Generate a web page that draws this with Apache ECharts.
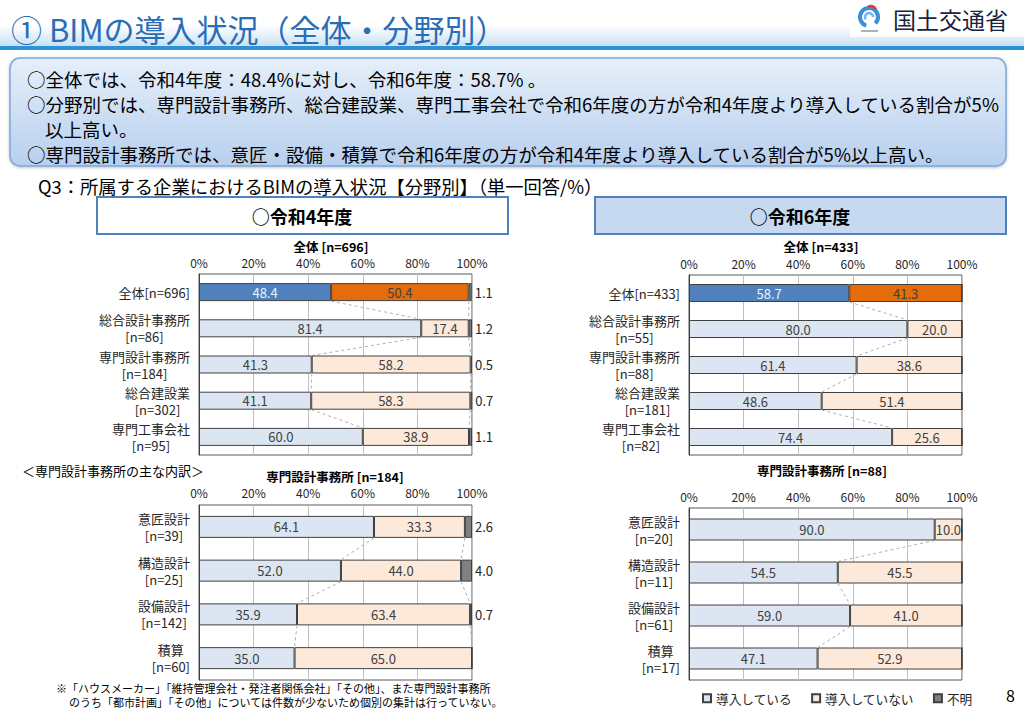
<!DOCTYPE html>
<html>
<head>
<meta charset="utf-8">
<script src="https://cdn.jsdelivr.net/npm/echarts@6/dist/echarts.min.js"></script>
<style>
html,body{margin:0;padding:0;background:#fff;}
#chart{width:1024px;height:709px;}
</style>
</head>
<body>
<div id="chart"></div>
<script>
// ---------------- DATA ----------------
const seriesNames = ['導入している', '導入していない', '不明'];

const r4AllCats = ['全体[n=696]', '総合設計事務所\n[n=86]', '専門設計事務所\n[n=184]', '総合建設業\n[n=302]', '専門工事会社\n[n=95]'];
const r4AllYes = [48.4, 81.4, 41.3, 41.1, 60.0];
const r4AllNo  = [50.4, 17.4, 58.2, 58.3, 38.9];
const r4AllUnk = [1.1, 1.2, 0.5, 0.7, 1.1];

const r6AllCats = ['全体[n=433]', '総合設計事務所\n[n=55]', '専門設計事務所\n[n=88]', '総合建設業\n[n=181]', '専門工事会社\n[n=82]'];
const r6AllYes = [58.7, 80.0, 61.4, 48.6, 74.4];
const r6AllNo  = [41.3, 20.0, 38.6, 51.4, 25.6];
const r6AllUnk = [0, 0, 0, 0, 0];

const r4DesCats = ['意匠設計\n[n=39]', '構造設計\n[n=25]', '設備設計\n[n=142]', '積算\n[n=60]'];
const r4DesYes = [64.1, 52.0, 35.9, 35.0];
const r4DesNo  = [33.3, 44.0, 63.4, 65.0];
const r4DesUnk = [2.6, 4.0, 0.7, 0];

const r6DesCats = ['意匠設計\n[n=20]', '構造設計\n[n=11]', '設備設計\n[n=61]', '積算\n[n=17]'];
const r6DesYes = [90.0, 54.5, 59.0, 47.1];
const r6DesNo  = [10.0, 45.5, 41.0, 52.9];
const r6DesUnk = [0, 0, 0, 0];

const panelTitles = ['全体 [n=696]', '全体 [n=433]', '専門設計事務所 [n=184]', '専門設計事務所 [n=88]'];
const axisMin = 0, axisMax = 100, axisStep = 20;

// ---------------- STYLE ----------------
const FONT = '"Noto Sans CJK JP", "Noto Sans", sans-serif';
const C_YES = '#dce6f2', C_NO = '#fde9d9', C_UNK = '#808080';
const C_YES_DARK = '#4f81bd', C_NO_DARK = '#e46c0a';
const C_BORDER = '#404040';
const LBL_SIZE = 13;
const LBL_GAP = 9;
const LBL_LH = 17;

// text width measured with the library's own text engine
function mw(s) {
  try {
    const t = new echarts.graphic.Text({style: {text: s, fontSize: LBL_SIZE, fontFamily: FONT}});
    const w = t.getBoundingRect().width;
    if (w && isFinite(w)) return w;
  } catch (e) {}
  const ctx = document.createElement('canvas').getContext('2d');
  ctx.font = LBL_SIZE + 'px ' + FONT;
  return ctx.measureText(s).width;
}

const panels = [
  {cats: r4AllCats, yes: r4AllYes, no: r4AllNo, unk: r4AllUnk, grid: {left: 199, top: 274, width: 273, height: 181}, barW: 18, hl: true, lm: 6},
  {cats: r6AllCats, yes: r6AllYes, no: r6AllNo, unk: r6AllUnk, grid: {left: 689, top: 275, width: 273, height: 180}, barW: 18, hl: true, lm: 6},
  {cats: r4DesCats, yes: r4DesYes, no: r4DesNo, unk: r4DesUnk, grid: {left: 199, top: 505, width: 273, height: 175}, barW: 22, hl: false, lm: 7},
  {cats: r6DesCats, yes: r6DesYes, no: r6DesNo, unk: r6DesUnk, grid: {left: 689, top: 508, width: 273, height: 172}, barW: 22, hl: false, lm: 6}
];

const grids = [], xAxes = [], yAxes = [], series = [];
panels.forEach((p, g) => {
  grids.push(Object.assign({show: true, borderColor: '#595959', borderWidth: 1, backgroundColor: 'transparent'}, p.grid));
  xAxes.push({
    type: 'value', gridIndex: g, position: 'top', min: axisMin, max: axisMax, interval: axisStep,
    axisLine: {show: false}, axisTick: {show: false},
    splitLine: {show: true, lineStyle: {color: '#bfbfbf', width: 1}},
    axisLabel: {formatter: '{value}%', fontSize: 12, color: '#262626', margin: p.lm, fontFamily: FONT}
  });
  yAxes.push({
    type: 'category', gridIndex: g, data: p.cats, inverse: true,
    axisLine: {show: true, lineStyle: {color: C_BORDER}}, axisTick: {show: false},
    axisLabel: {show: false, formatter: () => ''}
  });
  const stack = 'st' + g;
  const common = {type: 'bar', xAxisIndex: g, yAxisIndex: g, stack: stack, barWidth: p.barW, animation: false};
  series.push(Object.assign({}, common, {
    name: seriesNames[0],
    itemStyle: {color: C_YES, borderColor: C_BORDER, borderWidth: 1},
    label: {show: true, position: 'inside', color: '#404040', fontSize: 13, fontFamily: FONT, formatter: q => q.value.toFixed(1)},
    data: p.yes.map((v, i) => (p.hl && i === 0) ? {value: v, itemStyle: {color: C_YES_DARK}, label: {color: '#eef3fb'}} : v)
  }));
  series.push(Object.assign({}, common, {
    name: seriesNames[1],
    itemStyle: {color: C_NO, borderColor: C_BORDER, borderWidth: 1},
    label: {show: true, position: 'inside', color: '#404040', fontSize: 13, fontFamily: FONT, formatter: q => q.value.toFixed(1)},
    data: p.no.map((v, i) => (p.hl && i === 0) ? {value: v, itemStyle: {color: C_NO_DARK}} : v)
  }));
  series.push(Object.assign({}, common, {
    name: seriesNames[2],
    itemStyle: {color: C_UNK, borderColor: C_BORDER, borderWidth: 1},
    label: {show: true, position: 'right', distance: 3, color: '#262626', fontSize: 13, fontFamily: FONT,
            formatter: q => q.value > 0 ? q.value.toFixed(1) : ''},
    data: p.unk.slice()
  }));
  // connector lines between consecutive bars
  const cumA = p.yes.slice();
  const cumB = p.yes.map((v, i) => v + p.no[i]);
  const conn = [];
  for (let i = 0; i < p.cats.length - 1; i++) {
    conn.push([cumA[i], cumA[i + 1], i]);
    conn.push([cumB[i], cumB[i + 1], i]);
  }
  const half = p.barW / 2;
  series.push({
    type: 'custom', xAxisIndex: g, yAxisIndex: g, silent: true, animation: false, z: 1,
    encode: {x: [0, 1], y: 2},
    data: conn,
    renderItem: (params, api) => {
      const i = api.value(2);
      const a = api.coord([api.value(0), i]);
      const b = api.coord([api.value(1), i + 1]);
      return {type: 'line', shape: {x1: a[0], y1: a[1] + half, x2: b[0], y2: b[1] - half},
              style: {stroke: '#b0b0b0', lineWidth: 1, lineDash: [3, 3]}};
    }
  });
  // category labels placed through the axis scale: block right-aligned, lines centred on each other
  const lineSets = p.cats.map(c => c.split('\n'));
  const widths = lineSets.map(ls => Math.max.apply(null, ls.map(s => mw(s))));
  series.push({
    type: 'custom', xAxisIndex: g, yAxisIndex: g, silent: true, animation: false, clip: false, z: 5,
    encode: {x: 0, y: 1},
    data: p.cats.map((c, i) => [axisMin, i]),
    renderItem: (params, api) => {
      const pt = api.coord([api.value(0), api.value(1)]);
      const k = params.dataIndex;
      const ls = lineSets[k];
      const cx = pt[0] - LBL_GAP - widths[k] / 2;
      const y0 = pt[1] - (ls.length - 1) * LBL_LH / 2;
      return {type: 'group', children: ls.map((line, j) => ({
        type: 'text', x: cx, y: y0 + j * LBL_LH,
        style: {text: line, align: 'center', verticalAlign: 'middle', fontSize: LBL_SIZE, fill: '#262626', fontFamily: FONT}
      }))};
    }
  });
});

function txt(x, y, text, size, extra) {
  return {type: 'text', x: x, y: y, silent: true, z: 20,
          style: Object.assign({text: text, fill: '#000', fontSize: size, fontFamily: FONT, align: 'left', verticalAlign: 'middle'}, extra || {})};
}

const graphics = [
  // header band
  {type: 'rect', shape: {x: 0, y: 0, width: 1024, height: 46}, silent: true, z: 0,
   style: {fill: {type: 'linear', x: 0, y: 0, x2: 0, y2: 1, colorStops: [{offset: 0, color: '#ffffff'}, {offset: 0.55, color: '#ffffff'}, {offset: 1, color: '#c9e1f4'}]}}},
  {type: 'rect', shape: {x: 0, y: 46, width: 1024, height: 4}, silent: true, z: 1, style: {fill: '#2a94d6'}},
  {type: 'rect', shape: {x: 850, y: 0, width: 174, height: 37}, silent: true, z: 2, style: {fill: '#ffffff'}},
  {type: 'arc', shape: {cx: 869, cy: 17, r: 9, startAngle: Math.PI * 0.6, endAngle: Math.PI * 2.25}, silent: true, z: 3, style: {stroke: '#3b8ed8', lineWidth: 4, fill: null}},
  {type: 'arc', shape: {cx: 869, cy: 17, r: 4, startAngle: Math.PI * 0.8, endAngle: Math.PI * 2.0}, silent: true, z: 3, style: {stroke: '#6fb4ea', lineWidth: 2.5, fill: null}},
  {type: 'arc', shape: {cx: 871, cy: 11, r: 5, startAngle: Math.PI * 1.3, endAngle: Math.PI * 1.9}, silent: true, z: 4, style: {stroke: '#e03a2e', lineWidth: 2.5, fill: null}},
  {type: 'line', shape: {x1: 861, y1: 31, x2: 878, y2: 31}, silent: true, z: 3, style: {stroke: '#8a9aa8', lineWidth: 1.5}},
  txt(893, 19, '国土交通省', 23, {fill: '#1b2440'}),
  txt(11, 28, '① BIMの導入状況（全体・分野別）', 31, {fill: '#2a6db6'}),
  // summary box
  {type: 'rect', shape: {x: 10, y: 58, width: 996, height: 108, r: 10}, silent: true, z: 2,
   style: {fill: {type: 'linear', x: 0, y: 0, x2: 0, y2: 1, colorStops: [{offset: 0, color: '#e6effa'}, {offset: 1, color: '#b7cfee'}]},
           stroke: '#7fa5d6', lineWidth: 1.5, shadowBlur: 3, shadowColor: 'rgba(0,0,0,0.25)', shadowOffsetY: 1}},
  txt(27, 79, '○全体では、令和4年度：48.4%に対し、令和6年度：58.7% 。', 18.5),
  txt(27, 104, '○分野別では、専門設計事務所、総合建設業、専門工事会社で令和6年度の方が令和4年度より導入している割合が5%', 18.5),
  txt(45, 129, '以上高い。', 18.5),
  txt(27, 154, '○専門設計事務所では、意匠・設備・積算で令和6年度の方が令和4年度より導入している割合が5%以上高い。', 18.5),
  txt(38, 186, 'Q3：所属する企業におけるBIMの導入状況【分野別】（単一回答/%）', 18.3),
  // period boxes
  {type: 'rect', shape: {x: 97, y: 197, width: 411, height: 37}, silent: true, z: 2, style: {fill: '#ffffff', stroke: '#4f81bd', lineWidth: 2}},
  {type: 'rect', shape: {x: 595, y: 197, width: 411, height: 37}, silent: true, z: 2, style: {fill: '#c6d9f1', stroke: '#4f81bd', lineWidth: 2}},
  txt(302, 216, '○令和4年度', 18, {align: 'center', fontWeight: 'bold'}),
  txt(800, 216, '○令和6年度', 18, {align: 'center', fontWeight: 'bold'}),
  // panel titles
  txt(331, 246, panelTitles[0], 12.5, {align: 'center', fontWeight: 'bold'}),
  txt(821, 246, panelTitles[1], 12.5, {align: 'center', fontWeight: 'bold'}),
  txt(335, 476, panelTitles[2], 12.5, {align: 'center', fontWeight: 'bold'}),
  txt(822, 470, panelTitles[3], 12.5, {align: 'center', fontWeight: 'bold'}),
  txt(22, 470, '＜専門設計事務所の主な内訳＞', 13),
  // footnote
  txt(56, 688, '※「ハウスメーカー」「維持管理会社・発注者関係会社」「その他」、また専門設計事務所', 11),
  txt(69, 702, 'のうち「都市計画」「その他」については件数が少ないため個別の集計は行っていない。', 11),
  txt(1006, 695, '8', 16)
];

const chart = echarts.init(document.getElementById('chart'), null, {renderer: 'svg', width: 1024, height: 709});
chart.setOption({
  animation: false,
  backgroundColor: '#ffffff',
  textStyle: {fontFamily: FONT},
  legend: {
    data: seriesNames, left: 697, top: 687, itemWidth: 8, itemHeight: 8, itemGap: 19, icon: 'rect',
    textStyle: {fontSize: 12.7, color: '#262626', fontFamily: FONT}, selectedMode: false
  },
  grid: grids,
  xAxis: xAxes,
  yAxis: yAxes,
  series: series,
  graphic: graphics
});
</script>
</body>
</html>
